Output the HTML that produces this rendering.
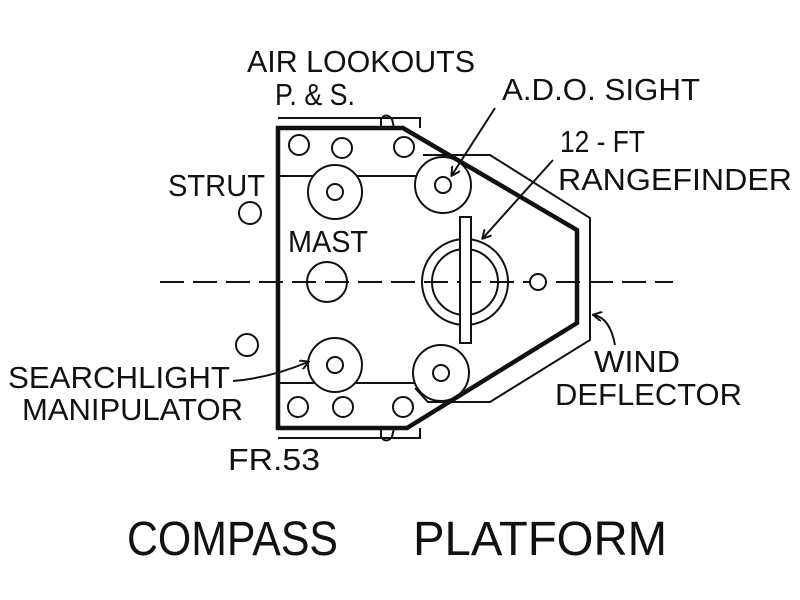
<!DOCTYPE html>
<html><head><style>body{margin:0;background:#fff}svg{display:block}text{font-family:"Liberation Sans",sans-serif;fill:#111}</style></head><body>
<svg width="800" height="600" viewBox="0 0 800 600" xmlns="http://www.w3.org/2000/svg">
<defs><marker id="a" markerWidth="10" markerHeight="10" refX="8" refY="5" orient="auto" markerUnits="userSpaceOnUse"><path d="M0,0 L9,5 L0,10" fill="none" stroke="#111" stroke-width="2"/></marker></defs>
<g fill="none" stroke="#111" stroke-width="2">
<line x1="160" y1="282" x2="673" y2="282" stroke-dasharray="24,9"/>
<path d="M423,155 L490,155 L590,218 L590,340 L490,402 L428,402 L415,388"/>
<path d="M278,118 L420,118 L420,128"/>
<path d="M278,438 L420,438 L420,428"/>
<path d="M381,128 L381,119 Q386,112 392,119 L394,128"/>
<path d="M381,428 L381,437 Q386,444 392,437 L394,428"/>
<line x1="278" y1="176" x2="416" y2="176"/>
<line x1="278" y1="383" x2="416" y2="383"/>
<circle cx="299" cy="145" r="10"/><circle cx="342" cy="148" r="10"/><circle cx="404" cy="147" r="10"/>
<circle cx="298" cy="407" r="10"/><circle cx="343" cy="407" r="10"/><circle cx="403" cy="407" r="10"/>
<circle cx="335" cy="192" r="27" fill="#fff"/><circle cx="335" cy="192" r="8"/>
<circle cx="443" cy="185" r="28" fill="#fff"/><circle cx="443" cy="185" r="8"/>
<circle cx="335" cy="365" r="27" fill="#fff"/><circle cx="335" cy="365" r="8"/>
<circle cx="441" cy="373" r="28" fill="#fff"/><circle cx="441" cy="373" r="8"/>
<circle cx="327" cy="282" r="20"/>
<circle cx="465" cy="282" r="43"/><circle cx="465" cy="282" r="33"/>
<rect x="460" y="217" width="11" height="126" fill="#fff"/>
<circle cx="538" cy="282" r="8" fill="#fff"/>
<circle cx="250" cy="213" r="11"/><circle cx="247" cy="345" r="11"/>
<path d="M278,128 L403,128 L577,230 L577,323 L407,428 L278,428 Z" stroke-width="4.5"/>
<line x1="495" y1="108" x2="452" y2="175" marker-end="url(#a)"/>
<line x1="553" y1="160" x2="483" y2="238" marker-end="url(#a)"/>
<path d="M233,381 Q270,378 308,362" marker-end="url(#a)"/>
<path d="M615,345 Q610,318 594,315" marker-end="url(#a)"/>
</g>
<g font-size="31">
<text x="247" y="72" textLength="228" lengthAdjust="spacingAndGlyphs">AIR LOOKOUTS</text>
<text x="275" y="105" textLength="80" lengthAdjust="spacingAndGlyphs">P. &amp; S.</text>
<text x="502" y="100" textLength="198" lengthAdjust="spacingAndGlyphs">A.D.O. SIGHT</text>
<text x="560" y="152" textLength="85" lengthAdjust="spacingAndGlyphs">12 - FT</text>
<text x="558" y="190" textLength="234" lengthAdjust="spacingAndGlyphs">RANGEFINDER</text>
<text x="168" y="196" textLength="97" lengthAdjust="spacingAndGlyphs">STRUT</text>
<text x="288" y="252" textLength="80" lengthAdjust="spacingAndGlyphs">MAST</text>
<text x="8" y="388" textLength="222" lengthAdjust="spacingAndGlyphs">SEARCHLIGHT</text>
<text x="22" y="420" textLength="221" lengthAdjust="spacingAndGlyphs">MANIPULATOR</text>
<text x="228" y="470" textLength="92" lengthAdjust="spacingAndGlyphs">FR.53</text>
<text x="594" y="372" textLength="86" lengthAdjust="spacingAndGlyphs">WIND</text>
<text x="555" y="405" textLength="187" lengthAdjust="spacingAndGlyphs">DEFLECTOR</text>
</g>
<g font-size="48">
<text x="127" y="555" textLength="211" lengthAdjust="spacingAndGlyphs">COMPASS</text>
<text x="413" y="555" textLength="254" lengthAdjust="spacingAndGlyphs">PLATFORM</text>
</g>
</svg>
</body></html>
